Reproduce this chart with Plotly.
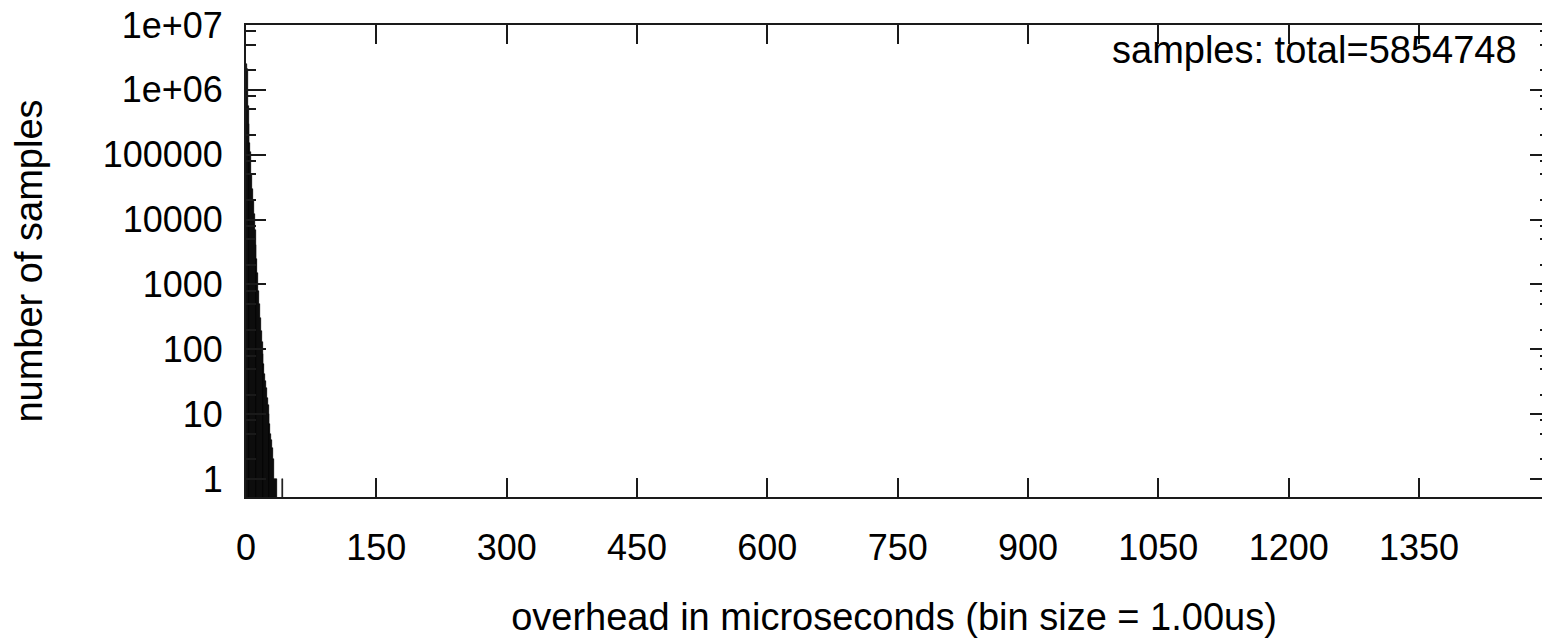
import plotly.graph_objects as go

# ---- data (histogram, bin size 1 us) ----
bin_start = list(range(0, 44))
counts = [2500000, 2100000, 570000, 300000, 150000, 110000, 50000, 30000,
          20000, 12000, 7000, 4000, 2500, 1500, 800, 500,
          300, 190, 130, 85, 60, 42, 32, 25,
          18, 14, 10, 7, 5, 4, 3, 2,
          1, 1, 0, 1, 0, 0, 0, 0,
          0, 0, 1, 0]
total_label = "samples: total=5854748"
x_tickvals = [0, 150, 300, 450, 600, 750, 900, 1050, 1200, 1350]
y_tickvals = [1, 10, 100, 1000, 10000, 100000, 1000000, 10000000]
y_ticktext = ["1", "10", "100", "1000", "10000", "100000", "1e+06", "1e+07"]
y_minor = [m * 10 ** d for d in range(0, 7) for m in (2, 5, 8)]

xs = [b + 0.5 for b, c in zip(bin_start, counts) if c > 0]
ys = [c for c in counts if c > 0]

W, H = 1542, 638
L, T, B = 246, 25, 141
px_per_unit = 0.8689
x_max = (W - L) / px_per_unit
y_range = [-0.278, 7]

FONT = "Liberation Sans, Arial, sans-serif"
FS = 36
FS_TITLE = 38
FS_NOTE = 38
AX = "#1a1a1a"

fig = go.Figure()
fig.add_trace(go.Bar(x=xs, y=ys, width=1, marker=dict(color="black", line=dict(width=0.5, color="black")),
                     showlegend=False, hoverinfo="x+y"))
fig.add_trace(go.Scatter(x=[10], y=[1], yaxis="y2", mode="markers", marker=dict(opacity=0),
                         showlegend=False, hoverinfo="skip"))

fig.update_layout(
    width=W, height=H,
    margin=dict(l=L, r=0, t=T, b=B, pad=0),
    paper_bgcolor="white", plot_bgcolor="white",
    font=dict(family=FONT, size=FS, color="black"),
    bargap=0,
    xaxis=dict(
        range=[0, x_max], tickmode="array", tickvals=x_tickvals,
        ticks="inside", ticklen=19, tickwidth=1.5, tickcolor=AX,
        showline=True, linecolor=AX, linewidth=2, mirror="ticks",
        showgrid=False, zeroline=False, automargin=False,
        title=dict(text="overhead in microseconds (bin size = 1.00us)", standoff=43,
                   font=dict(size=FS_TITLE)),
        ticklabelstandoff=18,
    ),
    yaxis=dict(
        type="log", range=y_range, tickmode="array", tickvals=y_tickvals, ticktext=y_ticktext,
        ticks="inside", ticklen=20, tickwidth=1.5, tickcolor=AX,
        minor=dict(tickmode="array", tickvals=y_minor, ticks="inside", ticklen=10, tickwidth=1.5, tickcolor=AX),
        showline=True, linecolor=AX, linewidth=2, mirror=False,
        showgrid=False, zeroline=False, automargin=False,
        title=dict(text="number of samples", standoff=48, font=dict(size=FS_TITLE)),
        ticklabelstandoff=14,
    ),
    yaxis2=dict(
        type="log", range=y_range, overlaying="y", side="right", tickmode="array", tickvals=y_tickvals,
        ticks="inside", ticklen=12, tickwidth=1.5, tickcolor=AX, showticklabels=False,
        minor=dict(tickmode="array", tickvals=y_minor, ticks="inside", ticklen=2, tickwidth=1.5, tickcolor=AX),
        showline=False, showgrid=False, zeroline=False, automargin=False,
    ),
    annotations=[dict(text=total_label, xref="paper", yref="paper",
                      x=(1519 - L) / (W - L), y=1 - (50 - T) / (H - T - B),
                      xanchor="right", yanchor="middle", showarrow=False,
                      font=dict(family=FONT, size=FS_NOTE, color="black"))],
)

fig.write_html("out.html",
               config={"displayModeBar": False},
               post_script="document.body.style.margin='0';document.body.style.overflow='hidden';")
